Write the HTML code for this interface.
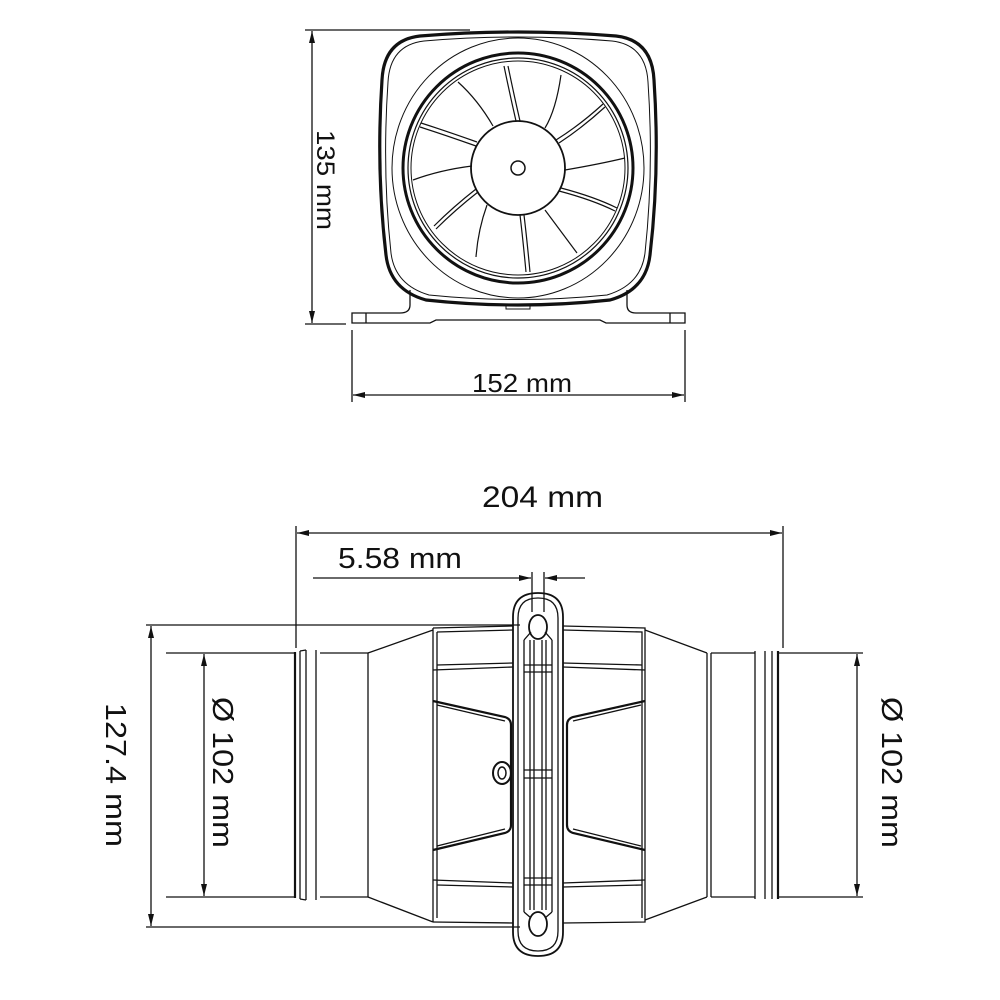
<!DOCTYPE html>
<html><head><meta charset="utf-8"><style>
html,body{margin:0;padding:0;background:#fff}
svg{display:block}
text{font-family:"Liberation Sans",sans-serif;fill:#111}
</style></head><body>
<svg width="1000" height="1000" viewBox="0 0 1000 1000" xmlns="http://www.w3.org/2000/svg">
<defs>
<marker id="a" viewBox="0 0 12 6" refX="12" refY="3" markerWidth="12" markerHeight="6" orient="auto-start-reverse" markerUnits="userSpaceOnUse">
<path d="M0,0 L12,3 L0,6 Z" fill="#111"/></marker>
</defs>
<g stroke="#111" fill="none" stroke-width="1.3">
<line x1="305" y1="30" x2="470" y2="30"/>
<line x1="305" y1="324" x2="346" y2="324"/>
<line x1="312" y1="31" x2="312" y2="323" marker-start="url(#a)" marker-end="url(#a)"/>
<line x1="352" y1="330" x2="352" y2="402"/>
<line x1="685" y1="330" x2="685" y2="402"/>
<line x1="353" y1="395" x2="684" y2="395" marker-start="url(#a)" marker-end="url(#a)"/>
<path d="M420,36 Q518,28 616,36 Q652,40 654,80 Q660,170 650,255 Q646,290 610,300 Q518,310 426,300 Q390,290 386,255 Q376,170 382,80 Q384,40 420,36 Z" stroke-width="3.2"/>
<path d="M424,41 Q518,33 612,41 Q646,45 648,82 Q654,170 645,253 Q641,285 607,295 Q518,304 429,295 Q395,285 391,253 Q382,170 388,82 Q390,45 424,41 Z" stroke-width="1"/>
<ellipse cx="518" cy="168" rx="126" ry="130" stroke-width="1"/>
<circle cx="518" cy="168" r="115" stroke-width="3"/>
<circle cx="518" cy="168" r="110" stroke-width="1.2"/>
<circle cx="518" cy="168" r="107" stroke-width="1"/>
<circle cx="518" cy="168" r="47" stroke-width="1.8"/>
<circle cx="518" cy="168" r="7" stroke-width="1.5"/>
<g stroke-width="1.2">
<path d="M504,66 Q510,95 516,121"/><path d="M508,66 Q514,95 520,121"/>
<path d="M561,75 Q556,110 545,128"/>
<path d="M603,104 Q580,125 556,140"/><path d="M605,107 Q582,128 559,143"/>
<path d="M625,158 Q600,164 565,170"/>
<path d="M617,208 Q595,197 561,188"/><path d="M615,211 Q593,200 559,191"/>
<path d="M577,253 Q560,230 545,210"/>
<path d="M530,272 Q527,240 524,215"/><path d="M526,272 Q523,240 520,215"/>
<path d="M476,257 Q478,230 487,205"/>
<path d="M436,229 Q455,210 478,192"/><path d="M434,226 Q453,207 476,189"/>
<path d="M413,180 Q440,170 472,166"/>
<path d="M420,127 Q445,135 476,146"/><path d="M421,123 Q446,131 477,142"/>
<path d="M458,82 Q478,100 493,126"/>
</g>
<path d="M410,290 L410,305 Q410,313 400,313 L352,313 L352,323 L430,323 L436,320 L600,320 L606,323 L685,323 L685,313 L636,313 Q627,313 627,305 L627,290"/>
<line x1="366" y1="313" x2="366" y2="323"/>
<line x1="670" y1="313" x2="670" y2="323"/>
<rect x="506" y="304" width="24" height="5" stroke-width="1"/>

<line x1="296" y1="526" x2="296" y2="648"/>
<line x1="783" y1="526" x2="783" y2="648"/>
<line x1="297" y1="533" x2="782" y2="533" marker-start="url(#a)" marker-end="url(#a)"/>
<line x1="313" y1="578" x2="531" y2="578" marker-end="url(#a)"/>
<line x1="585" y1="578" x2="545" y2="578" marker-end="url(#a)"/>
<line x1="532" y1="572" x2="532" y2="600"/>
<line x1="544" y1="572" x2="544" y2="600"/>
<line x1="146" y1="625" x2="520" y2="625"/>
<line x1="146" y1="927" x2="520" y2="927"/>
<line x1="151" y1="626" x2="151" y2="926" marker-start="url(#a)" marker-end="url(#a)"/>
<line x1="166" y1="653" x2="295" y2="653"/>
<line x1="166" y1="897" x2="295" y2="897"/>
<line x1="204" y1="654" x2="204" y2="896" marker-start="url(#a)" marker-end="url(#a)"/>
<line x1="778" y1="653" x2="863" y2="653"/>
<line x1="778" y1="897" x2="863" y2="897"/>
<line x1="857" y1="654" x2="857" y2="896" marker-start="url(#a)" marker-end="url(#a)"/>
<line x1="295" y1="652" x2="295" y2="898" stroke-width="2.2"/>
<line x1="300" y1="651" x2="300" y2="899"/>
<line x1="306" y1="650" x2="306" y2="900"/>
<line x1="316" y1="650" x2="316" y2="900"/>
<path d="M300,651 L306,650 M300,899 L306,900"/>
<path d="M320,653 L368,653 L368,897 L320,897"/>
<path d="M368,653 L433,630 M368,897 L433,922"/>
<path d="M433,628 L513,626 M563,626 L645,628 L645,922 L563,923 M513,923 L433,922 Z"/>
<line x1="433" y1="628" x2="433" y2="922"/>
<line x1="437" y1="632" x2="437" y2="918"/>
<path d="M437,632 L513,630 M563,630 L642,632 L642,918"/>
<path d="M433,670 L513,667 M563,667 L645,670"/>
<path d="M433,880 L513,883 M563,883 L645,880"/>
<path d="M437,665 L513,663 M563,663 L642,665"/>
<path d="M437,885 L513,887 M563,887 L642,885"/>
<path d="M433,701 L505,717 Q511,719 511,725 L511,825 Q511,831 505,833 L433,850" stroke-width="2.2"/>
<path d="M437,705 L505,721 M437,846 L505,829"/>
<path d="M645,701 L573,717 Q567,719 567,725 L567,825 Q567,831 573,833 L645,850" stroke-width="2.2"/>
<path d="M641,705 L573,721 M641,846 L573,829"/>
<ellipse cx="502" cy="773" rx="9" ry="11" stroke-width="2"/>
<ellipse cx="502" cy="773" rx="4" ry="6" stroke-width="1.5"/>
<path d="M645,630 L707,653 M645,920 L707,897"/>
<path d="M707,653 L707,897 M711,653 L711,897"/>
<path d="M711,653 L755,653 M711,897 L755,897"/>
<line x1="755" y1="651" x2="755" y2="899"/>
<line x1="765" y1="651" x2="765" y2="899"/>
<line x1="772" y1="651" x2="772" y2="899"/>
<line x1="778" y1="651" x2="778" y2="899" stroke-width="2.2"/>
<path d="M513,617 Q513,593 538,593 Q563,593 563,617 L563,932 Q563,956 538,956 Q513,956 513,932 Z" stroke-width="1.8"/>
<path d="M518,618 Q518,598 538,598 Q558,598 558,618 L558,931 Q558,951 538,951 Q518,951 518,931 Z"/>
<ellipse cx="538" cy="627" rx="9" ry="12" stroke-width="1.8"/>
<ellipse cx="538" cy="924" rx="9" ry="12" stroke-width="1.8"/>
<path d="M524,640 L531,632 M552,640 L545,632 M524,912 L531,918 M552,912 L545,918"/>
<line x1="530" y1="640" x2="530" y2="910"/>
<line x1="534" y1="640" x2="534" y2="910"/>
<line x1="542" y1="640" x2="542" y2="910"/>
<line x1="546" y1="640" x2="546" y2="910"/>
<line x1="524" y1="640" x2="524" y2="912"/>
<line x1="552" y1="640" x2="552" y2="912"/>
<path d="M524,665 L552,665 M524,672 L552,672 M524,770 L552,770 M524,778 L552,778 M524,878 L552,878 M524,885 L552,885"/>
<path d="M532,600 L532,612 M544,600 L544,612"/>
</g>
<text x="472" y="392" font-size="26" textLength="100" lengthAdjust="spacingAndGlyphs">152 mm</text>
<text transform="translate(317,130) rotate(90)" font-size="25" textLength="100" lengthAdjust="spacingAndGlyphs">135 mm</text>
<text x="482" y="507" font-size="30" textLength="121" lengthAdjust="spacingAndGlyphs">204 mm</text>
<text x="338" y="568" font-size="29" textLength="124" lengthAdjust="spacingAndGlyphs">5.58 mm</text>
<text transform="translate(106,703) rotate(90)" font-size="29" textLength="144" lengthAdjust="spacingAndGlyphs">127.4 mm</text>
<text transform="translate(213,697) rotate(90)" font-size="29" textLength="151" lengthAdjust="spacingAndGlyphs">Ø 102 mm</text>
<text transform="translate(882,697) rotate(90)" font-size="29" textLength="151" lengthAdjust="spacingAndGlyphs">Ø 102 mm</text>
</svg>
</body></html>
